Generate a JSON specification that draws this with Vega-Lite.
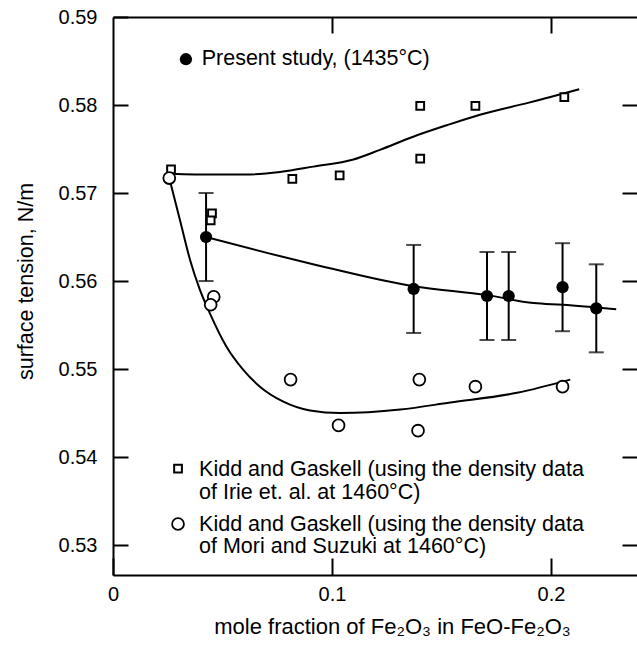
{
  "$schema": "https://vega.github.io/schema/vega-lite/v6.json",
  "width": 524,
  "height": 558,
  "autosize": {"type": "none"},
  "padding": {"left": 113, "top": 17, "right": 0, "bottom": 71},
  "background": "white",
  "config": {
    "view": {"stroke": null},
    "font": "Liberation Sans",
    "axis": {
      "grid": false,
      "labelFlush": false,
      "labelOverlap": false,
      "domainColor": "black",
      "domainWidth": 2,
      "tickColor": "black",
      "tickWidth": 2,
      "labelColor": "black",
      "labelFont": "Liberation Sans",
      "labelFontSize": 20,
      "titleColor": "black",
      "titleFont": "Liberation Sans",
      "titleFontSize": 21.5,
      "titleFontWeight": "normal"
    }
  },
  "datasets": {
    "present": [
      {"x": 0.0425, "y": 0.5650, "lo": 0.5600, "hi": 0.5700},
      {"x": 0.1373, "y": 0.5591, "lo": 0.5541, "hi": 0.5641},
      {"x": 0.1708, "y": 0.5583, "lo": 0.5533, "hi": 0.5633},
      {"x": 0.1807, "y": 0.5583, "lo": 0.5533, "hi": 0.5633},
      {"x": 0.2053, "y": 0.5593, "lo": 0.5543, "hi": 0.5643},
      {"x": 0.2207, "y": 0.5569, "lo": 0.5519, "hi": 0.5619}
    ],
    "irie": [
      {"x": 0.0265, "y": 0.5727},
      {"x": 0.0452, "y": 0.5677},
      {"x": 0.0446, "y": 0.5669},
      {"x": 0.0819, "y": 0.5716},
      {"x": 0.1035, "y": 0.5720},
      {"x": 0.1403, "y": 0.5799},
      {"x": 0.1403, "y": 0.5739},
      {"x": 0.1655, "y": 0.5799},
      {"x": 0.2061, "y": 0.5809}
    ],
    "mori": [
      {"x": 0.0257, "y": 0.5717},
      {"x": 0.0460, "y": 0.5582},
      {"x": 0.0446, "y": 0.5573},
      {"x": 0.0811, "y": 0.5488},
      {"x": 0.1030, "y": 0.5436},
      {"x": 0.1399, "y": 0.5488},
      {"x": 0.1393, "y": 0.5430},
      {"x": 0.1655, "y": 0.5480},
      {"x": 0.2053, "y": 0.5480}
    ],
    "fits": [
      {"series": "present", "x": 0.0425, "y": 0.5650},
      {"series": "present", "x": 0.0703, "y": 0.5632},
      {"series": "present", "x": 0.0932, "y": 0.5618},
      {"series": "present", "x": 0.1373, "y": 0.5594},
      {"series": "present", "x": 0.1708, "y": 0.5584},
      {"series": "present", "x": 0.1921, "y": 0.5575},
      {"series": "present", "x": 0.2053, "y": 0.5573},
      {"series": "present", "x": 0.2298, "y": 0.5568},
      {"series": "irie", "x": 0.0265, "y": 0.5722},
      {"series": "irie", "x": 0.0450, "y": 0.5721},
      {"series": "irie", "x": 0.0600, "y": 0.5721},
      {"series": "irie", "x": 0.0763, "y": 0.5724},
      {"series": "irie", "x": 0.0915, "y": 0.5730},
      {"series": "irie", "x": 0.1098, "y": 0.5738},
      {"series": "irie", "x": 0.1219, "y": 0.5749},
      {"series": "irie", "x": 0.1371, "y": 0.5764},
      {"series": "irie", "x": 0.1524, "y": 0.5777},
      {"series": "irie", "x": 0.1676, "y": 0.5789},
      {"series": "irie", "x": 0.1904, "y": 0.5803},
      {"series": "irie", "x": 0.2129, "y": 0.5818},
      {"series": "mori", "x": 0.0257, "y": 0.5717},
      {"series": "mori", "x": 0.0306, "y": 0.5669},
      {"series": "mori", "x": 0.0352, "y": 0.5624},
      {"series": "mori", "x": 0.0397, "y": 0.5590},
      {"series": "mori", "x": 0.0443, "y": 0.5563},
      {"series": "mori", "x": 0.0519, "y": 0.5525},
      {"series": "mori", "x": 0.0595, "y": 0.5499},
      {"series": "mori", "x": 0.0671, "y": 0.5480},
      {"series": "mori", "x": 0.0778, "y": 0.5463},
      {"series": "mori", "x": 0.0900, "y": 0.5453},
      {"series": "mori", "x": 0.1037, "y": 0.5450},
      {"series": "mori", "x": 0.1312, "y": 0.5454},
      {"series": "mori", "x": 0.1540, "y": 0.5462},
      {"series": "mori", "x": 0.1845, "y": 0.5473},
      {"series": "mori", "x": 0.2088, "y": 0.5488}
    ],
    "legendSym": [
      {"series": "present", "x": 0.0333, "y": 0.5852},
      {"series": "irie", "x": 0.0297, "y": 0.5387},
      {"series": "mori", "x": 0.0297, "y": 0.5324}
    ],
    "legendText": [
      {"x": 0.0405, "y": 0.5852, "label": "Present study, (1435°C)"},
      {"x": 0.0393, "y": 0.5385, "label": "Kidd and Gaskell (using the density data"},
      {"x": 0.0393, "y": 0.5359, "label": "of Irie et. al. at 1460°C)"},
      {"x": 0.0393, "y": 0.5323, "label": "Kidd and Gaskell (using the density data"},
      {"x": 0.0393, "y": 0.5298, "label": "of Mori and Suzuki at 1460°C)"}
    ]
  },
  "layer": [
    {
      "data": {"name": "fits"},
      "transform": [{"filter": "datum.series === 'mori'"}],
      "mark": {"type": "line", "color": "black", "strokeWidth": 2, "interpolate": "monotone"},
      "encoding": {
        "x": {"field": "x", "type": "quantitative", "scale": {"domain": [0, 0.2393], "nice": false, "zero": false},
          "axis": {"orient": "bottom", "values": [0, 0.1, 0.2], "format": "~g", "tickSize": -17, "labelPadding": 26,
            "title": "mole fraction of Fe₂O₃ in FeO-Fe₂O₃", "titleFontSize": 22, "titleX": 279, "titleY": 58, "titleBaseline": "alphabetic", "titleAlign": "center"}},
        "y": {"field": "y", "type": "quantitative", "scale": {"domain": [0.5266, 0.59], "nice": false, "zero": false},
          "axis": {"orient": "left", "values": [0.53, 0.54, 0.55, 0.56, 0.57, 0.58, 0.59], "format": ".2f", "tickSize": -15, "labelPadding": 31,
            "title": "surface tension, N/m", "titleX": -81, "titleY": 264, "titleAngle": -90, "titleBaseline": "alphabetic", "titleAlign": "center"}}
      }
    },
    {
      "data": {"name": "fits"},
      "transform": [{"filter": "datum.series === 'irie'"}],
      "mark": {"type": "line", "color": "black", "strokeWidth": 2, "interpolate": "monotone"},
      "encoding": {
        "x": {"field": "x", "type": "quantitative",
          "axis": {"orient": "top", "values": [0.1, 0.2], "labels": false, "tickSize": -16, "title": null}},
        "y": {"field": "y", "type": "quantitative",
          "axis": {"orient": "right", "values": [0.53, 0.54, 0.55, 0.56, 0.57, 0.58], "labels": false, "domain": false, "tickSize": -15, "title": null}}
      }
    },
    {
      "data": {"name": "fits"},
      "transform": [{"filter": "datum.series === 'present'"}],
      "mark": {"type": "line", "color": "black", "strokeWidth": 2, "interpolate": "monotone"},
      "encoding": {
        "x": {"field": "x", "type": "quantitative", "axis": null},
        "y": {"field": "y", "type": "quantitative", "axis": null}
      }
    },
    {
      "data": {"name": "present"},
      "mark": {"type": "errorbar", "ticks": {"size": 15, "thickness": 2, "color": "black"}, "rule": {"strokeWidth": 2, "color": "black"}},
      "encoding": {
        "x": {"field": "x", "type": "quantitative", "axis": null},
        "y": {"field": "lo", "type": "quantitative", "axis": null},
        "y2": {"field": "hi"}
      }
    },
    {
      "data": {"name": "irie"},
      "mark": {"type": "point", "shape": "square", "filled": true, "fill": "white", "stroke": "black", "strokeWidth": 2, "size": 60, "opacity": 1},
      "encoding": {
        "x": {"field": "x", "type": "quantitative", "axis": null},
        "y": {"field": "y", "type": "quantitative", "axis": null}
      }
    },
    {
      "data": {"name": "mori"},
      "mark": {"type": "point", "shape": "circle", "filled": true, "fill": "white", "stroke": "black", "strokeWidth": 1.8, "size": 140, "opacity": 1},
      "encoding": {
        "x": {"field": "x", "type": "quantitative", "axis": null},
        "y": {"field": "y", "type": "quantitative", "axis": null}
      }
    },
    {
      "data": {"name": "present"},
      "mark": {"type": "point", "shape": "circle", "filled": true, "color": "black", "size": 150, "opacity": 1},
      "encoding": {
        "x": {"field": "x", "type": "quantitative", "axis": null},
        "y": {"field": "y", "type": "quantitative", "axis": null}
      }
    },
    {
      "data": {"name": "legendSym"},
      "transform": [{"filter": "datum.series === 'present'"}],
      "mark": {"type": "point", "shape": "circle", "filled": true, "color": "black", "size": 150, "opacity": 1},
      "encoding": {
        "x": {"field": "x", "type": "quantitative", "axis": null},
        "y": {"field": "y", "type": "quantitative", "axis": null}
      }
    },
    {
      "data": {"name": "legendSym"},
      "transform": [{"filter": "datum.series === 'irie'"}],
      "mark": {"type": "point", "shape": "square", "filled": true, "fill": "white", "stroke": "black", "strokeWidth": 2, "size": 60, "opacity": 1},
      "encoding": {
        "x": {"field": "x", "type": "quantitative", "axis": null},
        "y": {"field": "y", "type": "quantitative", "axis": null}
      }
    },
    {
      "data": {"name": "legendSym"},
      "transform": [{"filter": "datum.series === 'mori'"}],
      "mark": {"type": "point", "shape": "circle", "filled": true, "fill": "white", "stroke": "black", "strokeWidth": 1.8, "size": 140, "opacity": 1},
      "encoding": {
        "x": {"field": "x", "type": "quantitative", "axis": null},
        "y": {"field": "y", "type": "quantitative", "axis": null}
      }
    },
    {
      "data": {"name": "legendText"},
      "mark": {"type": "text", "align": "left", "baseline": "middle", "fontSize": 21.5, "font": "Liberation Sans", "color": "black"},
      "encoding": {
        "x": {"field": "x", "type": "quantitative", "axis": null},
        "y": {"field": "y", "type": "quantitative", "axis": null},
        "text": {"field": "label"}
      }
    }
  ],
  "resolve": {"axis": {"x": "independent", "y": "independent"}}
}
